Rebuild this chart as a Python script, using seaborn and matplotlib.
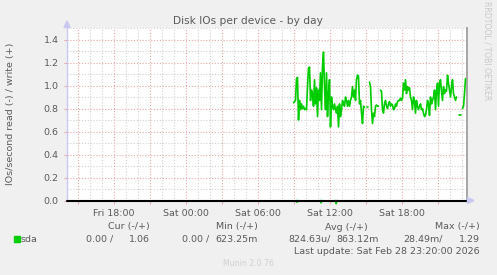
import numpy as np
import pandas as pd
import matplotlib
matplotlib.use("Agg")
import matplotlib.pyplot as plt
from matplotlib.patches import Polygon, Rectangle
import seaborn as sns

# ---------------- data ----------------
# write IOs/s (sda), 5-minute samples starting Sat 09:00 (hours since Fri 00:00)
start_hour = 33.0
step_hours = 5.0 / 60.0
write_values = [
    0.85, 0.86, 0.87, 1.06, 1.07, 0.70, 0.87, 0.79, 0.84, 0.80, 0.82, 0.79, 0.80, 0.79,
    0.99, 1.15, 1.16, 0.87, 0.96, 0.93, 0.82, 1.05, 0.84, 0.98, 0.73, 0.96, 0.87, 1.11,
    0.79, 1.16, 1.29, 0.99, 0.79, 1.11, 0.73, 0.93, 1.05, 0.64, 0.90, 0.82, 0.79, 0.84,
    0.79, 0.76, 0.82, 0.64, 0.84, 0.73, 0.79, 0.87, 0.84, 0.82, 0.90, 0.87, 0.82, 0.87,
    0.82, 0.87, 0.90, 0.99, 0.90, 0.96, 0.87, 1.05, 1.09, 1.08, 0.84, 0.87, 0.76, 0.67,
    0.82, 0.81, np.nan, 0.81, 0.81, np.nan,
    1.03, 0.99, 0.79, 0.67, 0.76, 0.73, 0.82, 0.83, 0.82, 0.82, np.nan,
    0.96, 0.95, 0.79, 0.76, 0.84, 0.87, 0.82, 0.80, 0.84, 0.86, 0.82, 0.84, 0.83, 0.79,
    0.80, 0.84, 0.82, 0.86, 0.87, 0.87, 0.89, 0.87, 0.89, 1.02, 0.96, 1.05, 0.93, 0.99,
    0.96, 0.98, 0.90, 0.87, 0.79, 0.90, 0.87, 0.76, 0.87, 0.82, 0.79, 0.82, 0.84, 0.79,
    0.80, 0.76, 0.73, 0.74, 0.79, 0.87, 0.84, 0.74, 0.90, 0.84, 0.87, 0.90, 0.96, 0.79,
    0.96, 1.02, 0.82, 1.02, 1.05, 0.95, 0.87, 0.99, 0.93, 0.96, 0.95, 1.09, 1.02, 0.96,
    0.90, 0.99, 1.05, 0.93, 0.90, 0.87, 0.90, np.nan,
    0.74, 0.74, 0.74, np.nan,
    0.80, 0.82, 0.93, 1.06,
]
# read IOs/s (sda): only a few tiny spikes (hours since Fri 00:00, value)
read_spike_hours = [33.30, 35.30, 36.55]
read_spike_values = [0.015, 0.020, 0.028]

x_tick_hours = [18, 24, 30, 36, 42]
x_tick_labels = ["Fri 18:00", "Sat 00:00", "Sat 06:00", "Sat 12:00", "Sat 18:00"]
y_ticks = [0.0, 0.2, 0.4, 0.6, 0.8, 1.0, 1.2, 1.4]

legend_name = "sda"
cur_vals = ("0.00 /", "1.06")
min_vals = ("0.00 /", "623.25m")
avg_vals = ("824.63u/", "863.12m")
max_vals = ("28.49m/", "1.29")
title = "Disk IOs per device - by day"
ylabel = "IOs/second read (-) / write (+)"
last_update = "Last update: Sat Feb 28 23:20:00 2026"

# ---------------- build frames ----------------
w = np.array(write_values, dtype=float)
t = start_hour + step_hours * np.arange(len(w))
seg = np.cumsum(np.isnan(w))
df_w = pd.DataFrame({"t": t, "v": w, "seg": seg}).dropna()

# read series as negative values, zeros outside the spikes
df_r = pd.DataFrame({"t": np.repeat(read_spike_hours, 3) + np.tile([-step_hours, 0, step_hours], len(read_spike_hours)),
                     "v": np.ravel([[0.0, -v, 0.0] for v in read_spike_values])})
df_r["seg"] = np.repeat(np.arange(len(read_spike_hours)), 3)

# ---------------- figure ----------------
sns.set_theme(style="white")
plt.rcParams["font.family"] = ["DejaVu Sans"]
W, H = 497, 275
fig = plt.figure(figsize=(W / 100, H / 100), dpi=100, facecolor="#f0f0f0")
ax = fig.add_axes([67 / W, (H - 200.5) / H, 400 / W, 172.5 / H])
ax.set_facecolor("white")

x0, x1 = 14.125, 14.125 + 400 / 12
ax.set_xlim(x0, x1)
ax.set_ylim(0, 1.5)

# grid
minor_c = "#d2d2d2"
major_c = "#e8a8a8"
dot = (0, (1, 1.6))
for h in np.arange(15, 48, 1):
    if h % 3 != 0:
        ax.axvline(h, color=minor_c, lw=0.8, ls=dot, zorder=0.5)
for yv in np.arange(0.1, 1.51, 0.2):
    ax.axhline(yv, color=minor_c, lw=0.8, ls=dot, zorder=0.5)
for h in np.arange(15, 48, 3):
    ax.axvline(h, color=major_c, lw=0.8, ls=dot, zorder=0.6)
for yv in y_ticks[1:]:
    ax.axhline(yv, color=major_c, lw=0.8, ls=dot, zorder=0.6)

green = "#00cc00"
sns.lineplot(data=df_r, x="t", y="v", units="seg", estimator=None, color=green,
             lw=1.2, ax=ax, legend=False, zorder=2)
for ln in ax.lines:
    ln.set_clip_on(False)
sns.lineplot(data=df_w, x="t", y="v", units="seg", estimator=None, color=green,
             lw=1.2, ax=ax, legend=False, zorder=3)
ax.axhline(0, color="black", lw=1.5, zorder=4, clip_on=False)

# axes styling
txt = "#5a5a5a"
for s in ["top", "bottom"]:
    ax.spines[s].set_visible(False)
ax.spines["left"].set_color("#c8c8f0")
ax.spines["left"].set_linewidth(1.0)
ax.spines["right"].set_color("#a0a0a0")
ax.spines["right"].set_linewidth(1.3)

ax.set_xticks(np.arange(15, 48, 3))
ax.set_xticklabels([x_tick_labels[x_tick_hours.index(h)] if h in x_tick_hours else "" for h in np.arange(15, 48, 3)])
ax.set_yticks(y_ticks)
ax.set_yticklabels([f"{v:.1f}" for v in y_ticks])
ax.tick_params(axis="both", colors=major_c, labelcolor=txt, labelsize=6.8, length=2.5, width=0.8,
               direction="out")
ax.tick_params(axis="x", pad=3.5, bottom=True)
ax.tick_params(axis="y", pad=3.5, left=True)
ax.set_xlabel("")
ax.set_ylabel("")

# arrows (axis decorations)
fig.patches.append(Polygon([[64 / W, 1 - 27.5 / H], [70 / W, 1 - 27.5 / H], [67 / W, 1 - 21 / H]],
                           closed=True, transform=fig.transFigure, color="#c8c8f0", zorder=5))
fig.patches.append(Polygon([[467.5 / W, 1 - 197.5 / H], [467.5 / W, 1 - 203.5 / H], [474 / W, 1 - 200.5 / H]],
                           closed=True, transform=fig.transFigure, color="#c8c8f0", zorder=5))

def fx(px):
    return px / W

def fy(py):
    return 1 - py / H

fig.text(fx(248), fy(20.5), title, ha="center", va="center", fontsize=7.7, color=txt)
fig.text(fx(11), fy(114), ylabel, ha="center", va="center", rotation=90, fontsize=6.8, color=txt)
fig.text(fx(487), fy(51), "RRDTOOL / TOBI OETIKER", ha="center", va="center", rotation=270,
         fontsize=5.6, color="#c8c8c8")

# legend block
fs = 6.8
fig.patches.append(Rectangle((fx(14), fy(242)), 6 / W, 6 / H, transform=fig.transFigure, color=green))
fig.text(fx(20.5), fy(239), legend_name, ha="left", va="center", fontsize=fs, color=txt)
fig.text(fx(150), fy(227), "Cur (-/+)", ha="right", va="center", fontsize=fs, color=txt)
fig.text(fx(257.5), fy(227), "Min (-/+)", ha="right", va="center", fontsize=fs, color=txt)
fig.text(fx(368), fy(227), "Avg (-/+)", ha="right", va="center", fontsize=fs, color=txt)
fig.text(fx(480), fy(227), "Max (-/+)", ha="right", va="center", fontsize=fs, color=txt)
for (a, b), ra, rb in [(cur_vals, 113, 149.5), (min_vals, 209.5, 257.5),
                       (avg_vals, 331, 378.5), (max_vals, 443, 480)]:
    fig.text(fx(ra), fy(239), a, ha="right", va="center", fontsize=fs, color=txt)
    fig.text(fx(rb), fy(239), b, ha="right", va="center", fontsize=fs, color=txt)
fig.text(fx(480), fy(251), last_update, ha="right", va="center", fontsize=fs, color=txt)
fig.text(fx(248), fy(263), "Munin 2.0.76", ha="center", va="center", fontsize=5.6, color="#d0d0d0")

fig.savefig("out.png", dpi=100, facecolor=fig.get_facecolor())
